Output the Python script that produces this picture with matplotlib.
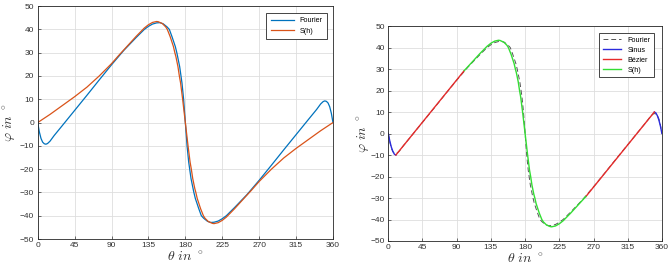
import matplotlib
matplotlib.use("Agg")
import matplotlib.pyplot as plt
import numpy as np

plt.rcParams['font.family'] = ['Liberation Sans', 'DejaVu Sans']
plt.rcParams['mathtext.fontset'] = 'cm'

# Fourier approximation
fourier_theta = [0, 2, 4, 6, 8, 10, 12, 15, 20, 30, 45, 60, 75, 90, 105, 120, 130, 135,
                 140, 145, 149, 153, 157.6, 160.5, 163.7, 167.8, 169.6, 170.6, 173.1, 174.7,
                 175.9, 177.9, 180,
                 182.1, 184.1, 185.3, 186.9, 189.4, 190.4, 192.2, 196.3, 199.5, 202.4, 207,
                 211, 215, 220, 225, 230, 240, 255, 270, 285, 300, 315, 330, 340, 345, 348,
                 350, 352, 354, 356, 358, 360]
fourier_phi = [0, -4, -6.8, -8.4, -9.1, -9.3, -9.0, -8.0, -5.6, -1.3, 5.2, 11.7, 18.3, 24.8,
               31, 36.5, 40, 41.3, 42.3, 42.8, 42.9, 42.4, 41.1, 40, 36.9, 32.6, 30, 28.3,
               24, 20, 17, 10, 0,
               -10, -17, -20, -24, -28.3, -30, -32.6, -36.9, -40, -41.1, -42.4, -42.9, -42.8,
               -42.3, -41.3, -40, -36.5, -31, -24.8, -18.3, -11.7, -5.2, 1.3, 5.6, 8.0, 9.0,
               9.3, 9.1, 8.4, 6.8, 4, 0]

# S(h)
sh_theta = [0, 15, 30, 45, 60, 75, 90, 100, 105, 120, 130, 135, 140, 145, 147, 152, 156,
            158, 161.5, 165.5, 167.2, 168.5, 171, 172.7, 174.2, 176.7, 180,
            183.3, 185.8, 187.3, 189, 191.5, 192.8, 194.5, 198.5, 202, 204, 208, 213, 215,
            220, 225, 230, 240, 255, 260, 270, 285, 300, 315, 330, 345, 360]
sh_phi = [0, 3.5, 7.3, 11.1, 15.2, 20, 25.3, 29.3, 31.2, 37, 40.6, 42, 43, 43.4, 43.3, 42.5,
          41.1, 40, 36.9, 32.6, 30, 28.3, 24, 20, 17, 10, 0,
          -10, -17, -20, -24, -28.3, -30, -32.6, -36.9, -40, -41.1, -42.5, -43.3, -43.4,
          -43, -42, -40.6, -37, -31.2, -29.3, -25.3, -20, -15.2, -11.1, -7.3, -3.5, 0]

# right panel pieces
sinus1_theta = [0, 2, 4, 6, 8, 10]
sinus1_phi = [0, -3.5, -6.3, -8.3, -9.6, -10]
sinus2_theta = [350, 352, 354, 356, 358, 360]
sinus2_phi = [10, 9.6, 8.3, 6.3, 3.5, 0]
bez1_theta = [10, 40, 70, 100]
bez1_phi = [-10, 3.1, 16.2, 29.3]
bez2_theta = [260, 290, 320, 350]
bez2_phi = [-29.3, -16.2, -3.1, 10]

xticks = [0, 45, 90, 135, 180, 225, 270, 315, 360]
yticks = [-50, -40, -30, -20, -10, 0, 10, 20, 30, 40, 50]


def style(ax, ypad):
    ax.set_xlim(0, 360)
    ax.set_ylim(-50, 50)
    ax.set_xticks(xticks)
    ax.set_yticks(yticks)
    ax.grid(True, color='#dedede', linewidth=0.6)
    ax.set_axisbelow(True)
    ax.tick_params(direction='in', length=2.5, width=0.5, labelsize=6,
                   colors='#333333', pad=2.5)
    for s in ax.spines.values():
        s.set_linewidth(0.6)
        s.set_color('#262626')
    ax.set_xlabel(r'$\theta\ in\ ^\circ$', fontsize=10, labelpad=0, color='#333333')
    ax.set_ylabel(r'$\varphi\ in\ ^\circ$', fontsize=10, labelpad=ypad, color='#333333')


fig = plt.figure(figsize=(6.72, 2.66), dpi=100)
ax1 = fig.add_axes([0.0561, 0.1015, 0.4394, 0.8755])
ax2 = fig.add_axes([0.5778, 0.094, 0.4072, 0.808])

ax1.plot(fourier_theta, fourier_phi, color='#0072BD', lw=0.9, label='Fourier')
ax1.plot(sh_theta, sh_phi, color='#D95319', lw=0.9, label='S(h)')
style(ax1, 1)
ax1.legend(loc='upper right', bbox_to_anchor=(0.98, 0.97), borderaxespad=0, fontsize=5.2,
           fancybox=False, edgecolor='#262626', framealpha=1, handlelength=3.2,
           borderpad=0.6, labelspacing=0.45).get_frame().set_linewidth(0.6)

th_g = [t for t in sh_theta if 100 <= t <= 260]
ph_g = [p for t, p in zip(sh_theta, sh_phi) if 100 <= t <= 260]

ax2.plot(fourier_theta, fourier_phi, color='#555555', lw=0.7, dashes=(5, 3), label='Fourier')
ax2.plot(sinus1_theta, sinus1_phi, color='#2b2bdd', lw=1.0, label='Sinus')
ax2.plot(sinus2_theta, sinus2_phi, color='#2b2bdd', lw=1.0)
ax2.plot(bez1_theta, bez1_phi, color='#e62a2a', lw=1.0, label='Bézier')
ax2.plot(bez2_theta, bez2_phi, color='#e62a2a', lw=1.0)
ax2.plot(th_g, ph_g, color='#33dd33', lw=1.0, label='S(h)')
style(ax2, -1)
ax2.legend(loc='upper right', bbox_to_anchor=(0.971, 0.967), borderaxespad=0, fontsize=5.2,
           fancybox=False, edgecolor='#262626', framealpha=1, handlelength=2.6,
           borderpad=0.5, labelspacing=0.4).get_frame().set_linewidth(0.6)

fig.savefig('out.png', dpi=100)
